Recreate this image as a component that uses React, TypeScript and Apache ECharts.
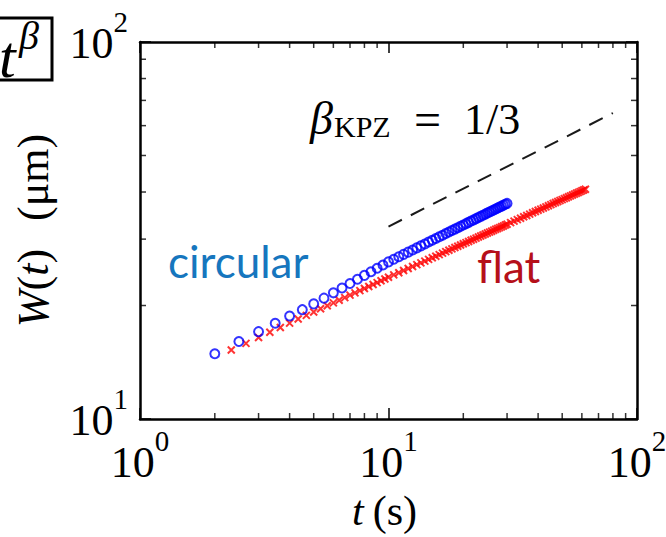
import React, { useEffect, useRef } from 'react';
import * as echarts from 'echarts';

// Log-decade ticks and their exponent labels
const decades = [1, 10, 100];
const decadeExponents = ['0', '1', '2'];
// Minor (2..9 x decade) tick positions
const minorT = [2, 3, 4, 5, 6, 7, 8, 9, 20, 30, 40, 50, 60, 70, 80, 90];
const minorW = [20, 30, 40, 50, 60, 70, 80, 90];

// Circular interface: width W(t) in µm vs time t in s
const circularT = [
  2, 2.5, 3, 3.5, 4, 4.5, 5, 5.5, 6, 6.5, 7, 7.5, 8, 8.5, 9, 9.5, 10,
  10.5, 11, 11.5, 12, 12.5, 13, 13.5, 14, 14.5, 15, 15.5, 16, 16.5, 17, 17.5, 18, 18.5, 19, 19.5, 20,
  20.5, 21, 21.5, 22, 22.5, 23, 23.5, 24, 24.5, 25, 25.5, 26, 26.5, 27, 27.5, 28, 28.5, 29, 29.5, 30,
];
const circularW = [
  14.9, 16.05, 17.05, 17.95, 18.76, 19.5, 20.2, 20.92, 21.61, 22.26, 22.88, 23.48, 24.04, 24.59, 25.12, 25.62, 26.11,
  26.53, 26.94, 27.33, 27.71, 28.08, 28.44, 28.79, 29.13, 29.47, 29.79, 30.11, 30.42, 30.73, 31.03, 31.32, 31.61, 31.89, 32.17, 32.44, 32.71,
  32.97, 33.23, 33.49, 33.74, 33.99, 34.23, 34.47, 34.71, 34.94, 35.17, 35.4, 35.62, 35.84, 36.06, 36.27, 36.48, 36.69, 36.9, 37.11, 37.31,
];

// Flat interface
const flatT = [
  2.33, 2.67, 3, 3.33, 3.67, 4, 4.33, 4.67, 5, 5.33, 5.67, 6, 6.33, 6.67, 7, 7.33, 7.67, 8, 8.33, 8.67, 9, 9.33, 9.67, 10,
  10.5, 11, 11.5, 12, 12.5, 13, 13.5, 14, 14.5, 15, 15.5, 16, 16.5, 17, 17.5, 18, 18.5, 19, 19.5, 20,
  20.5, 21, 21.5, 22, 22.5, 23, 23.5, 24, 24.5, 25, 25.5, 26, 26.5, 27, 27.5, 28, 28.5, 29, 29.5, 30,
  31, 32, 33, 34, 35, 36, 37, 38, 39, 40, 41, 42, 43, 44, 45, 46, 47, 48, 49, 50,
  51, 52, 53, 54, 55, 56, 57, 58, 59, 60, 61, 62,
];
const flatW = [
  15.24, 15.87, 16.45, 16.99, 17.49, 17.96, 18.41, 18.83, 19.23, 19.61, 19.97, 20.32, 20.66, 20.99, 21.31, 21.61, 21.9, 22.19, 22.46, 22.75, 23.0, 23.26, 23.51, 23.76,
  24.11, 24.43, 24.76, 25.07, 25.37, 25.67, 25.95, 26.23, 26.51, 26.77, 27.03, 27.29, 27.54, 27.79, 28.02, 28.26, 28.49, 28.71, 28.94, 29.15,
  29.37, 29.57, 29.78, 29.98, 30.18, 30.38, 30.57, 30.76, 30.95, 31.13, 31.31, 31.49, 31.67, 31.85, 32.02, 32.19, 32.36, 32.52, 32.69, 32.85,
  33.18, 33.49, 33.8, 34.09, 34.39, 34.67, 34.95, 35.23, 35.5, 35.77, 36.03, 36.28, 36.54, 36.79, 37.04, 37.28, 37.52, 37.75, 37.98, 38.19,
  38.42, 38.64, 38.86, 39.08, 39.28, 39.49, 39.7, 39.9, 40.1, 40.31, 40.5, 40.7,
];

// KPZ guide line, slope 1/3
const guideT = [10, 80];
const guideW = [32.4, 64.8];

const SERIF = 'Liberation Serif, serif';
const SANS = 'Lato, sans-serif';

const powerLabel = (v: number) => {
  const i = decades.findIndex((d) => Math.abs(d - v) < 1e-6 * d);
  return i < 0 ? '' : `{b|10}{s|${decadeExponents[i]}}`;
};

const powRich = {
  b: { fontFamily: SERIF, fontSize: 44, color: '#000', verticalAlign: 'bottom' },
  s: { fontFamily: SERIF, fontSize: 29, color: '#000', verticalAlign: 'bottom', padding: [0, 0, 29, 0] },
};

const frameLine = { show: true, onZero: false, lineStyle: { color: '#000', width: 2.5 } };
const majorTick = { show: true, inside: true, length: 11, lineStyle: { color: '#000', width: 1.5 } };

const tickSeries = (data: number[][], size: number[], offset: number[]) => ({
  type: 'scatter',
  data,
  symbol: 'rect',
  symbolSize: size,
  symbolOffset: offset,
  itemStyle: { color: '#000' },
  clip: false,
  silent: true,
  z: 5,
});

export default function App() {
  const ref = useRef<HTMLDivElement>(null);

  useEffect(() => {
    const chart = echarts.init(ref.current!, null, { renderer: 'svg' });

    const option = {
      animation: false,
      backgroundColor: '#fff',
      textStyle: { fontFamily: SERIF },
      grid: { left: 140, right: 29, top: 42, bottom: 118, containLabel: false, outerBoundsMode: 'none' },
      xAxis: [
        {
          type: 'log',
          min: 1,
          max: 100,
          position: 'bottom',
          axisLine: frameLine,
          axisTick: majorTick,
          splitLine: { show: false },
          axisLabel: {
            formatter: powerLabel,
            rich: powRich,
            fontFamily: SERIF,
            margin: 7,
            showMinLabel: true,
            showMaxLabel: true,
          },
          name: '{i|t}{r|(s)}',
          nameLocation: 'middle',
          nameGap: 71,
          nameTextStyle: {
            fontFamily: SERIF,
            rich: {
              i: { fontFamily: SERIF, fontSize: 42, fontStyle: 'italic', color: '#000' },
              r: { fontFamily: SERIF, fontSize: 42, color: '#000', padding: [0, 0, 0, 9] },
            },
            padding: [0, 8, 0, 0],
          },
        },
        {
          type: 'log',
          min: 1,
          max: 100,
          position: 'top',
          axisLine: frameLine,
          axisTick: majorTick,
          splitLine: { show: false },
          axisLabel: { show: false },
        },
      ],
      yAxis: [
        {
          type: 'log',
          min: 10,
          max: 100,
          position: 'left',
          axisLine: frameLine,
          axisTick: majorTick,
          splitLine: { show: false },
          axisLabel: {
            formatter: powerLabel,
            rich: powRich,
            fontFamily: SERIF,
            margin: 12,
            padding: [0, 0, 12, 0],
            showMinLabel: true,
            showMaxLabel: true,
          },
          name: '{i|W}{r|(}{i|t}{r|)}{g|(μm)}',
          nameLocation: 'middle',
          nameGap: 85,
          nameTextStyle: {
            fontFamily: SERIF,
            rich: {
              i: { fontFamily: SERIF, fontSize: 44, fontStyle: 'italic', color: '#000' },
              r: { fontFamily: SERIF, fontSize: 44, color: '#000' },
              g: { fontFamily: SERIF, fontSize: 44, color: '#000', padding: [0, 0, 0, 28] },
            },
          },
        },
        {
          type: 'log',
          min: 10,
          max: 100,
          position: 'right',
          axisLine: frameLine,
          axisTick: majorTick,
          splitLine: { show: false },
          axisLabel: { show: false },
        },
      ],
      series: [
        {
          type: 'line',
          data: guideT.map((t, i) => [t, guideW[i]]),
          showSymbol: false,
          lineStyle: { color: '#1a1a1a', width: 2, type: [15, 10] },
          silent: true,
          z: 2,
        },
        {
          type: 'scatter',
          name: 'flat',
          data: flatT.map((t, i) => [t, flatW[i]]),
          symbol: 'path://M0,0L10,10M10,0L0,10',
          symbolSize: 7,
          itemStyle: { color: 'transparent', borderColor: '#ff0000', borderWidth: 2 },
          z: 3,
        },
        {
          type: 'scatter',
          name: 'circular',
          data: circularT.map((t, i) => [t, circularW[i]]),
          symbol: 'circle',
          symbolSize: 9,
          itemStyle: { color: 'transparent', borderColor: '#0000ff', borderWidth: 2 },
          z: 4,
        },
        tickSeries(minorT.map((t) => [t, 10]), [1.5, 6], [0, -3]),
        tickSeries(minorT.map((t) => [t, 100]), [1.5, 6], [0, 3]),
        tickSeries(minorW.map((w) => [1, w]), [6, 1.5], [3, 0]),
        tickSeries(minorW.map((w) => [100, w]), [6, 1.5], [-3, 0]),
      ],
      graphic: [
        {
          type: 'rect',
          shape: { x: -6, y: 18, width: 58, height: 62 },
          style: { fill: 'none', stroke: '#000', lineWidth: 3 },
        },
        {
          type: 'text',
          style: {
            text: 't', x: -1, y: 56.75, fill: '#000',
            font: `italic 60px ${SERIF}`, verticalAlign: 'middle', align: 'left',
          },
        },
        {
          type: 'text',
          style: {
            text: 'β', x: 19, y: 35.5, fill: '#000',
            font: `italic 40px ${SERIF}`, verticalAlign: 'middle', align: 'left',
          },
        },
        {
          type: 'group',
          children: [
            { type: 'text', style: { text: 'β', x: 310, y: 118.5, fill: '#000', font: `italic 46px ${SERIF}`, verticalAlign: 'middle' } },
            { type: 'text', style: { text: 'KPZ', x: 334, y: 126.9, fill: '#000', font: `30px ${SERIF}`, verticalAlign: 'middle' } },
            { type: 'text', style: { text: '=', x: 414, y: 119.15, fill: '#000', font: `48px ${SERIF}`, verticalAlign: 'middle' } },
            { type: 'text', style: { text: '1/3', x: 464, y: 119.15, fill: '#000', font: `44px ${SERIF}`, verticalAlign: 'middle' } },
          ],
        },
        {
          type: 'text',
          style: { text: 'circular', x: 168, y: 261, fill: '#1676be', font: `44px ${SANS}`, verticalAlign: 'middle' },
        },
        {
          type: 'text',
          style: { text: 'flat', x: 477, y: 266, fill: '#b5101a', font: `44px ${SANS}`, verticalAlign: 'middle' },
        },
      ],
    };

    chart.setOption(option as any);
    return () => chart.dispose();
  }, []);

  return (
    <div
      ref={ref}
      style={{ position: 'absolute', left: 0, top: 0, width: 666, height: 537, background: '#fff' }}
    />
  );
}
